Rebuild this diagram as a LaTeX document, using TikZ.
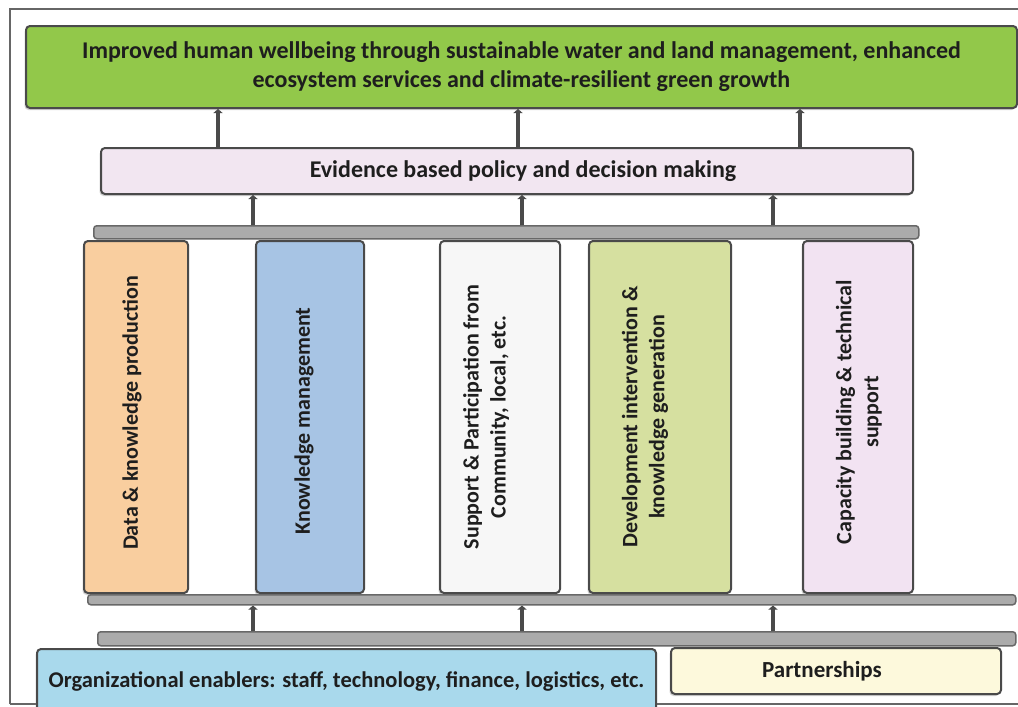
\documentclass[tikz,border=0pt]{standalone}
\usepackage{fontspec}
\setmainfont{Carlito}
\usetikzlibrary{arrows.meta,shadows}

\definecolor{ink}{HTML}{1E1E1E}
\definecolor{edge}{HTML}{4A4A4A}
\definecolor{goalgreen}{HTML}{92C84A}
\definecolor{policy}{HTML}{F2E6F1}
\definecolor{barfill}{HTML}{ABABAB}
\definecolor{baredge}{HTML}{686868}
\definecolor{cOrange}{HTML}{F9CE9F}
\definecolor{cBlue}{HTML}{A7C4E4}
\definecolor{cWhite}{HTML}{F7F7F7}
\definecolor{cGreen}{HTML}{D6E0A0}
\definecolor{cLav}{HTML}{F2E3F2}
\definecolor{orgblue}{HTML}{A9D9EC}
\definecolor{partner}{HTML}{FDF9DC}

\tikzset{
  box/.style={draw=edge, line width=2pt, rounded corners=4pt, anchor=north west,
    inner sep=0pt, text=ink, font=\bfseries\fontsize{24}{29}\selectfont, align=center,
    drop shadow={shadow xshift=-1.5pt, shadow yshift=-2pt, opacity=0.35}},
  pillar/.style={box, anchor=north west},
  caption/.style={inner sep=0pt, text=ink, align=center,
    font=\bfseries\fontsize{22}{27}\selectfont},
  vcaption/.style={caption, rotate=90},
  bar/.style={draw=baredge, fill=barfill, line width=1.5pt, rounded corners=3pt,
    anchor=north west, inner sep=0pt},
  uparrow/.style={draw=edge, line width=4pt, -{Triangle[length=4pt,width=9pt]}},
}

\begin{document}
\begin{tikzpicture}[x=1pt,y=-1pt]
\useasboundingbox[fill=white] (0,0) rectangle (1018,707);

% outer frame
\draw[draw=gray!80!black, line width=1.5pt] (10,704) -- (10,9) -- (1030,9);
\draw[draw=gray!80!black, line width=1.5pt] (10,704) -- (1030,704);

% goal and policy layers
\node[box, fill=goalgreen, minimum width=991pt, minimum height=82pt] (goal) at (25,25)
  {Improved human wellbeing through sustainable water and land management, enhanced\\
   ecosystem services and climate-resilient green growth};
\node[box, fill=policy, minimum width=812pt, minimum height=46pt] (policy) at (100,147) {};
\node[caption, font=\bfseries\fontsize{24}{29}\selectfont] (policytext)
  at ([xshift=16pt]policy.center) {Evidence based policy and decision making};

% upper and lower rails
\node[bar, minimum width=825pt, minimum height=13pt] (railtop) at (93,225) {};
\node[bar, minimum width=928pt, minimum height=10pt] (railmid) at (87,594) {};
\node[bar, minimum width=918pt, minimum height=14pt] (railbot) at (97,631) {};

% pillars
\node[pillar, fill=cOrange, minimum width=104pt, minimum height=352pt] (p1) at (83,240) {};
\node[pillar, fill=cBlue,   minimum width=108pt, minimum height=352pt] (p2) at (255,240) {};
\node[pillar, fill=cWhite,  minimum width=120pt, minimum height=352pt] (p3) at (439,240) {};
\node[pillar, fill=cGreen,  minimum width=142pt, minimum height=352pt] (p4) at (588,240) {};
\node[pillar, fill=cLav,    minimum width=110pt, minimum height=352pt] (p5) at (802,240) {};

% pillar captions, read bottom to top
\node[vcaption] (t1) at ([xshift=-4pt,yshift=4pt]p1.center) {Data \& knowledge production};
\node[vcaption] (t2) at ([xshift=-6pt,yshift=-4pt]p2.center) {Knowledge management};
\node[vcaption] (t3) at ([xshift=-14pt]p3.center) {Support \& Participation from\\Community, local, etc.};
\node[vcaption] (t4) at ([xshift=-15pt]p4.center) {Development intervention \&\\knowledge generation};
\node[vcaption] (t5) at ([xshift=1pt,yshift=5pt]p5.center) {Capacity building \& technical\\support};

% foundation boxes
\node[box, fill=orgblue, minimum width=619pt, minimum height=65pt,
      font=\bfseries\fontsize{22.5}{27}\selectfont] (org) at (36,648)
  {Organizational enablers: staff, technology, finance, logistics, etc.};
\node[box, fill=partner, minimum width=330pt, minimum height=46pt] (partners) at (670,647) {};
\node[caption, font=\bfseries\fontsize{23}{27}\selectfont] (partnerstext)
  at ([xshift=-14pt]partners.center) {Partnerships};

% arrow columns
\coordinate (u1) at (218,0); \coordinate (u2) at (518,0); \coordinate (u3) at (800,0);
\coordinate (m1) at (253,0); \coordinate (m2) at (522,0); \coordinate (m3) at (773,0);

\foreach \c in {u1,u2,u3}
  \draw[uparrow] (policy.north -| \c) -- (goal.south -| \c);
\foreach \c in {m1,m2,m3}
  \draw[uparrow] (railtop.north -| \c) -- (policy.south -| \c);
\foreach \c in {m1,m2,m3}
  \draw[uparrow] (railbot.north -| \c) -- (railmid.south -| \c);
\end{tikzpicture}
\end{document}
